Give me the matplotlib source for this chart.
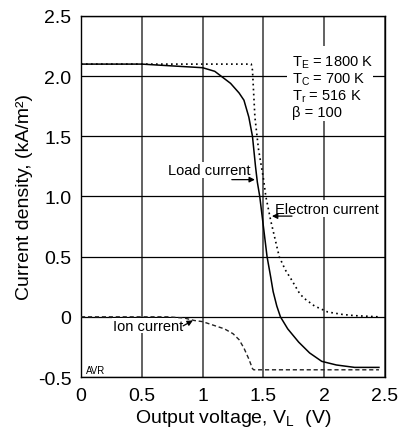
import matplotlib
matplotlib.use("Agg")
import matplotlib.pyplot as plt
from matplotlib.patches import Rectangle

plt.rcParams['font.family'] = ['Liberation Sans', 'DejaVu Sans']
plt.rcParams['mathtext.fontset'] = 'custom'
plt.rcParams['mathtext.rm'] = 'Liberation Sans'
plt.rcParams['mathtext.it'] = 'Liberation Sans:italic'

# data
load_v = [0, 0.5, 1.0, 1.1, 1.23, 1.30, 1.34, 1.38, 1.41, 1.435, 1.45, 1.47, 1.50, 1.53,
          1.56, 1.58, 1.61, 1.64, 1.70, 1.79, 1.88, 1.98, 2.10, 2.25, 2.45]
load_j = [2.10, 2.10, 2.07, 2.04, 1.94, 1.86, 1.80, 1.66, 1.50, 1.25, 1.12, 1.0, 0.75, 0.50,
          0.33, 0.21, 0.09, 0.0, -0.10, -0.21, -0.30, -0.37, -0.40, -0.42, -0.42]

elec_v = [0, 1.40, 1.41, 1.43, 1.46, 1.50, 1.52, 1.56, 1.63, 1.68, 1.73, 1.80, 1.84,
          1.92, 2.03, 2.15, 2.25, 2.45]
elec_j = [2.10, 2.10, 2.05, 1.66, 1.39, 1.15, 1.0, 0.80, 0.50, 0.39, 0.31, 0.19, 0.15,
          0.09, 0.04, 0.02, 0.01, 0.0]

ion_v = [0, 0.5, 0.71, 0.85, 0.93, 1.0, 1.09, 1.18, 1.25, 1.30, 1.34, 1.38, 1.41, 1.42, 2.45]
ion_j = [0, 0, 0, -0.01, -0.03, -0.04, -0.07, -0.10, -0.14, -0.19, -0.26, -0.35, -0.43, -0.44, -0.44]

x_ticks = [0, 0.5, 1, 1.5, 2, 2.5]
x_labels = ['0', '0.5', '1', '1.5', '2', '2.5']
y_ticks = [-0.5, 0, 0.5, 1.0, 1.5, 2.0, 2.5]
y_labels = ['-0.5', '0', '0.5', '1.0', '1.5', '2.0', '2.5']

params = [r'T$_\mathrm{E}$ = 1800 K', r'T$_\mathrm{C}$ = 700 K',
          r'T$_\mathrm{r}$ = 516 K', u'\u03b2 = 100']

fig = plt.figure(figsize=(4.04, 4.35), dpi=100)
ax = fig.add_axes([0.2005, 0.131, 0.7525, 0.830])

ax.plot(load_v, load_j, color='black', lw=1.1, zorder=3)
ax.plot(elec_v, elec_j, color='black', lw=1.2, ls=(0, (1, 2)), zorder=3)
ax.plot(ion_v, ion_j, color='#222222', lw=1.0, ls=(0, (3, 2)), zorder=3)

ax.set_xlim(0, 2.5)
ax.set_ylim(-0.5, 2.5)
ax.set_xticks(x_ticks)
ax.set_xticklabels(x_labels)
ax.set_yticks(y_ticks)
ax.set_yticklabels(y_labels)
ax.tick_params(length=0, labelsize=14, pad=7)

ax.set_axisbelow(True)
ax.yaxis.grid(True, color='black', lw=0.9)
ax.xaxis.grid(True, color='#555555', lw=1.3)
for s in ax.spines.values():
    s.set_linewidth(1.0)

ax.set_xlabel(r'Output voltage, V$_\mathrm{L}$  (V)', fontsize=14, labelpad=2)
ax.set_ylabel(u'Current density, (kA/m\u00b2)', fontsize=14, labelpad=3)

box = dict(facecolor='white', edgecolor='none', pad=1.0)

# parameter block on a white patch that hides the grid
ax.add_patch(Rectangle((1.695, 1.63), 0.71, 0.62, facecolor='white', edgecolor='none', zorder=2.5))
ys = [2.12, 1.98, 1.84, 1.70]
for s, y in zip(params, ys):
    ax.text(1.735, y, s, fontsize=10.5, va='center', ha='left', zorder=4)

# labels with arrows
arrow = dict(arrowstyle='-|>', color='black', lw=0.9, mutation_scale=8, shrinkA=0, shrinkB=0)
ax.text(1.053, 1.22, 'Load current', fontsize=10.5, ha='center', va='center', bbox=box, zorder=4)
ax.annotate('', xy=(1.43, 1.14), xytext=(1.24, 1.14), arrowprops=arrow, zorder=5)

ax.text(2.02, 0.90, 'Electron current', fontsize=10.5, ha='center', va='center', bbox=box, zorder=4)
ax.annotate('', xy=(1.57, 0.837), xytext=(1.735, 0.837), arrowprops=arrow, zorder=5)

ax.text(0.55, -0.075, 'Ion current', fontsize=10.5, ha='center', va='center',
        bbox=dict(facecolor='white', edgecolor='none', pad=0.3), zorder=2.8)
ax.annotate('', xy=(0.92, -0.03), xytext=(0.84, -0.075), arrowprops=arrow, zorder=5)

ax.text(0.045, -0.44, 'AVR', fontsize=7, ha='left', va='center', zorder=4)

fig.savefig('out.png', dpi=100)
